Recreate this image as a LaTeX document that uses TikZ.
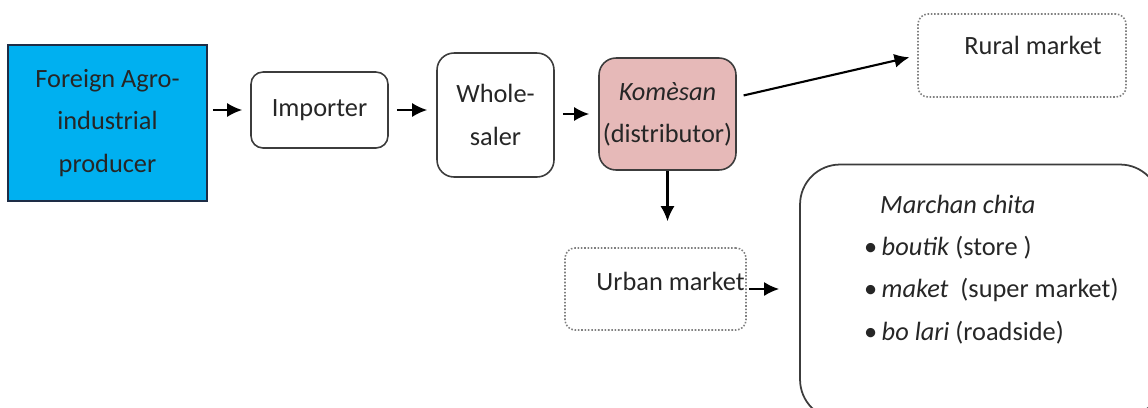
\documentclass[tikz,border=0pt]{standalone}
\usepackage{fontspec}
\setmainfont{Carlito}
\usetikzlibrary{arrows.meta}
\definecolor{agroblue}{RGB}{0,176,240}
\definecolor{agroedge}{RGB}{30,45,70}
\definecolor{komesanpink}{RGB}{230,185,184}
\definecolor{boxedge}{RGB}{60,60,60}
\begin{document}
\begin{tikzpicture}[x=0.02cm,y=-0.02cm,
    every node/.style={font=\fontsize{15}{24}\selectfont, align=center, text=black!85},
    actor/.style={draw=boxedge, line width=0.9pt, rounded corners=0.34cm},
    market/.style={draw=gray, densely dotted, line width=0.9pt, rounded corners=0.2cm},
    flow/.style={-{Latex[length=3mm,width=2.8mm]}, line width=1.2pt}]
        \useasboundingbox (0,0) rectangle (1148,407);
        \clip (0,0) rectangle (1148,407);

        \node[draw=agroedge, fill=agroblue, line width=1pt, minimum width=3.98cm, minimum height=3.12cm] (producer) at (107.5,123) {Foreign Agro-\\industrial\\producer};
        \node[actor, rounded corners=0.24cm, minimum width=2.74cm, minimum height=1.52cm] (importer) at (319.5,110) {Importer};
        \node[actor, minimum width=2.34cm, minimum height=2.48cm] (wholesaler) at (495.5,115) {Whole-\\saler};
        \node[actor, fill=komesanpink, inner xsep=1pt, minimum width=2.74cm, minimum height=2.24cm] (komesan) at (667.5,114) {\textit{Komèsan}\\(distributor)};

        \node[market, minimum width=4.16cm, minimum height=1.66cm, label={[xshift=0.22cm,yshift=0.21cm]center:Rural market}] (rural) at (1022,55.5) {};
        \node[market, minimum width=3.62cm, minimum height=1.64cm, label={[xshift=0.3cm,yshift=0.16cm]center:Urban market}] (urban) at (655.5,289) {};

        \node[actor, line width=1pt, rounded corners=0.8cm, minimum width=7.2cm, minimum height=5.1cm] (outlets) at (980,292) {};
        \node[anchor=north west, align=left] (outletlist) at (858,189) {\hspace{0.32cm}\textit{Marchan chita}\\
            \textbullet\,\textit{boutik} (store )\\
            \textbullet\,\textit{maket}~ (super market)\\
            \textbullet\,\textit{bo lari} (roadside)};

        \draw[flow, shorten <=0.1cm, shorten >=0.16cm] (producer.east |- importer) -- (importer.west);
        \draw[flow, shorten <=0.16cm, shorten >=0.18cm] (importer.east) -- (importer.east -| wholesaler.west);
        \draw[flow, shorten <=0.16cm, shorten >=0.18cm] (wholesaler.east |- komesan) -- (komesan.west);
        \draw[flow, shorten <=0.14cm, shorten >=0.16cm] ([yshift=0.34cm]komesan.east) -- (rural.west);
        \draw[flow, shorten >=0.52cm] (komesan.south) -- (komesan.south |- urban.north);
        \draw[flow, shorten <=0.04cm, shorten >=0.4cm] (urban.east) -- (outlets.west |- urban.east);

    \end{tikzpicture}
\end{document}
